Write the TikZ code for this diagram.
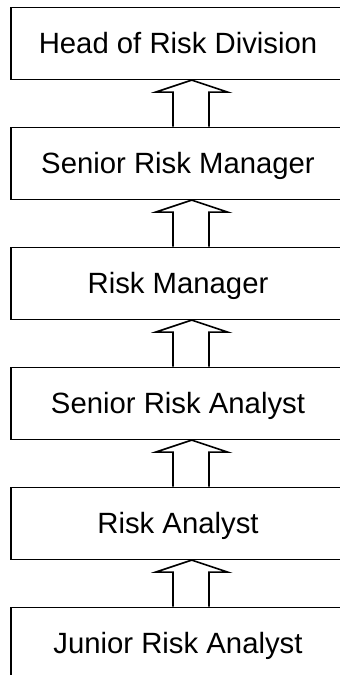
\documentclass[tikz,border=0pt]{standalone}
\usepackage{fontspec}
\setmainfont{Liberation Sans}
\usetikzlibrary{calc}
\tikzset{
  rolebox/.style={draw=black, line width=1.6pt, fill=white, rectangle,
    minimum width=334pt, minimum height=72pt, inner sep=0pt,
    text height=21pt, text depth=0pt,
    font=\fontsize{29.3pt}{35pt}\selectfont},
  promo/.style={draw=black, line width=1.6pt, line join=miter}
}
\begin{document}
\begin{tikzpicture}[x=1pt,y=1pt]
\useasboundingbox (0,0) rectangle (340,-675);
\clip (0,0) rectangle (340,-675);
\node[rolebox] (b0) at (178,-43.3) {Head of Risk Division};
\node[rolebox] (b1) at (178,-163.3) {Senior Risk Manager};
\node[rolebox] (b2) at (178,-283.3) {Risk Manager};
\node[rolebox] (b3) at (178,-403.3) {Senior Risk Analyst};
\node[rolebox] (b4) at (178,-523.3) {Risk Analyst};
\node[rolebox] (b5) at (178,-643.3) {Junior Risk Analyst};
\foreach \hi/\lo in {b0/b1,b1/b2,b2/b3,b3/b4,b4/b5}{
  \draw[promo] ($(\lo.north)+(-5,0)$) -- ($(\hi.south)+(-5,-12)$)
    -- ($(\hi.south)+(-22.3,-12)$) -- ($(\hi.south)+(13.7,0)$)
    -- ($(\hi.south)+(49.7,-12)$) -- ($(\hi.south)+(31,-12)$)
    -- ($(\lo.north)+(31,0)$);
}
\end{tikzpicture}
\end{document}
